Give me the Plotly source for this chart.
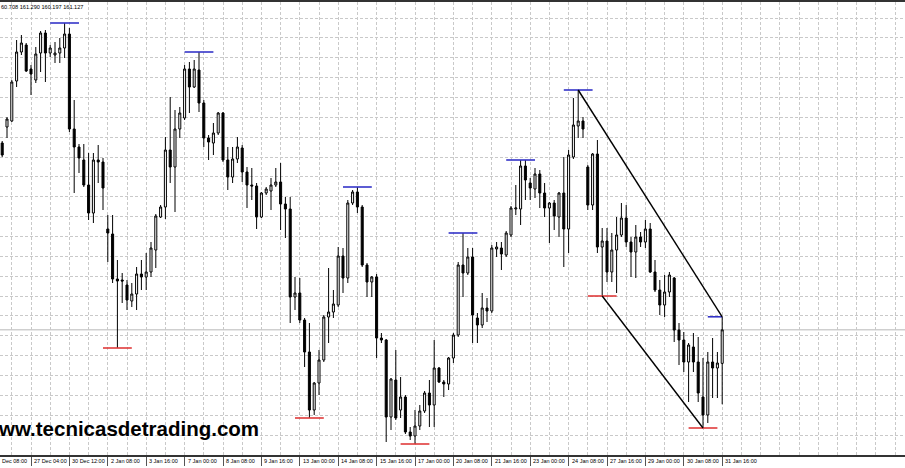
import plotly.graph_objects as go

# ---- data (EURJPY H4) ----
bar_index = list(range(2, 153))

open_ = [163.4625, 163.6625, 163.7375, 164.2375, 164.6, 164.6875, 164.3875, 164.25, 164.5875, 164.8375,
         164.5875, 164.5625, 164.5875, 164.65, 164.825, 163.6375, 163.4125, 163.25, 162.9375, 162.5875,
         163.25, 163.225, 162.3875, 162.325, 161.7625, 161.75, 161.6875, 161.4875, 161.575, 161.825,
         161.7875, 161.85, 162.125, 162.5375, 162.6625, 163.375, 163.1625, 163.6375, 163.775, 164.3875,
         164.1625, 164.375, 163.9625, 163.525, 163.4625, 163.5875, 163.8375, 163.25, 163.0375, 163.2625,
         163.4, 163.1, 162.9375, 162.925, 162.5375, 162.8375, 162.8625, 162.9375, 162.975, 162.7,
         162.6375, 161.5375, 161.5875, 161.25, 160.85, 160.125, 160.4625, 160.75, 161.2875, 161.35,
         161.4375, 162.05, 161.775, 162.7125, 162.85, 162.6625, 161.9375, 161.725, 161.7875, 161.025,
         161.0, 160.0375, 160.5, 160.125, 160.2875, 159.85, 159.8, 159.925, 160.1125, 160.3375,
         160.1875, 160.65, 160.475, 160.45, 160.775, 161.0625, 161.9375, 161.8375, 162.0375, 161.275,
         161.1875, 161.4, 161.3625, 162.1375, 162.15, 162.0625, 162.3125, 162.6375, 162.6375, 163.175,
         162.9625, 162.8875, 163.075, 162.8375, 162.65, 162.7125, 162.5375, 162.8375, 162.3875, 163.2875,
         163.675, 163.7375, 163.1625, 162.6875, 163.325, 162.1625, 162.2375, 161.85, 162.125, 162.3125,
         162.525, 162.225, 162.1, 162.2875, 162.225, 162.3875, 161.85, 161.625, 161.4375, 161.6,
         161.775, 161.125, 161.0, 160.725, 160.9125, 160.725, 160.2875, 160.0625, 160.725, 160.65,
         160.708]

high = [163.4875, 163.7875, 164.25, 164.75, 164.8125, 164.7125, 164.4375, 164.6625, 164.8625, 164.875,
        164.6875, 164.725, 164.775, 164.9625, 164.9, 164.0, 163.45, 163.45, 163.3375, 163.3375,
        163.4375, 163.275, 162.5625, 162.5625, 162.0, 161.8375, 161.75, 161.7125, 161.9125, 162.0,
        162.0875, 162.225, 162.575, 162.6875, 163.5375, 164.0375, 163.875, 163.9125, 164.4375, 164.475,
        164.5, 164.6, 164.0, 163.5625, 163.7125, 163.85, 163.85, 163.4125, 163.4125, 163.5375,
        163.4375, 163.1625, 163.15, 162.9625, 162.85, 162.9125, 163.025, 163.15, 163.2125, 162.7875,
        162.7875, 161.7875, 161.775, 161.275, 161.2125, 160.475, 160.875, 161.3125, 161.9, 161.625,
        162.1625, 162.15, 162.75, 162.875, 162.9125, 162.6875, 161.9625, 161.8, 161.825, 161.0875,
        161.0125, 160.525, 160.875, 160.5375, 160.3125, 159.9125, 160.125, 160.1875, 160.3625, 160.5,
        161.0, 160.6625, 160.5, 160.7875, 161.0875, 161.975, 162.3375, 162.15, 162.15, 161.3375,
        161.5875, 161.525, 162.1875, 162.225, 162.225, 162.3625, 162.675, 162.9375, 163.25, 163.25,
        163.025, 163.15, 163.125, 162.9625, 162.725, 162.75, 162.85, 163.2875, 163.375, 164.025,
        164.125, 163.7875, 163.1875, 163.3375, 163.5, 162.4, 162.4, 162.3375, 162.5375, 162.7125,
        162.6875, 162.2875, 162.4375, 162.35, 162.5, 162.4625, 162.0, 161.75, 161.8125, 161.85,
        161.7875, 161.2125, 161.1, 160.9625, 161.0875, 161.0375, 160.775, 160.85, 161.025, 160.85,
        161.290]

low = [163.2875, 163.525, 163.725, 164.1625, 164.5625, 164.35, 164.0625, 164.2125, 164.35, 164.225,
       164.5375, 164.4625, 164.4625, 164.525, 163.6, 162.8375, 163.0875, 162.9125, 162.5, 162.4625,
       162.9625, 162.625, 161.975, 161.7125, 160.9, 161.4625, 161.375, 161.4125, 161.375, 161.625,
       161.625, 161.7875, 161.9, 162.525, 162.5125, 162.9625, 162.6, 163.525, 163.75, 163.8375,
       164.15, 163.85, 163.4125, 163.25, 163.3125, 163.5625, 163.225, 162.875, 162.9625, 163.2125,
       162.975, 162.65, 162.75, 162.3875, 162.525, 162.8125, 162.625, 162.9125, 162.375, 162.275,
       161.2125, 161.375, 161.2125, 160.6625, 160.025, 160.0625, 160.3125, 160.725, 160.9625, 161.275,
       161.4125, 161.5875, 161.7125, 162.6875, 162.5875, 161.9125, 161.5375, 161.5375, 160.775, 160.9625,
       159.725, 159.875, 160.0, 160.025, 159.825, 159.75, 159.7, 159.875, 160.0875, 159.9125,
       159.9125, 160.4625, 160.2875, 160.375, 160.7125, 161.0375, 161.5375, 161.8125, 160.9625, 160.9625,
       161.15, 161.225, 161.3375, 162.0375, 161.875, 162.0375, 162.2875, 162.5625, 162.4375, 162.75,
       162.75, 162.775, 162.65, 162.5375, 162.2125, 162.375, 162.2875, 161.9125, 162.0875, 163.2625,
       163.525, 163.525, 162.625, 162.625, 162.0875, 161.55, 161.725, 161.725, 161.5875, 162.2875,
       162.1625, 161.7875, 161.775, 162.1625, 162.15, 161.8375, 161.6, 161.3125, 161.2875, 161.5375,
       160.975, 160.6875, 160.6, 160.225, 160.6, 160.225, 159.9, 159.9625, 160.275, 160.275,
       160.197]

close = [163.3125, 163.7625, 164.225, 164.6, 164.7125, 164.3625, 164.325, 164.575, 164.8375, 164.5875,
         164.65, 164.5875, 164.65, 164.825, 163.6375, 163.4125, 163.275, 162.9375, 162.5875, 163.25,
         163.225, 162.9, 162.3375, 161.7625, 161.7375, 161.7375, 161.5, 161.575, 161.825, 161.7875,
         161.85, 162.15, 162.55, 162.6625, 163.375, 163.1625, 163.6375, 163.8375, 164.3875, 164.1625,
         164.3875, 163.9625, 163.525, 163.475, 163.5875, 163.8375, 163.25, 163.0375, 163.2625, 163.4125,
         163.1, 162.9375, 162.925, 162.5375, 162.8375, 162.8875, 162.9375, 162.975, 162.7, 162.6375,
         161.5375, 161.5875, 161.25, 160.85, 160.125, 160.4625, 160.75, 161.2875, 161.35, 161.45,
         162.05, 161.775, 162.7125, 162.85, 162.6625, 161.9375, 161.725, 161.7875, 161.025, 161.0,
         160.0375, 160.5125, 160.025, 160.2875, 159.85, 159.8, 159.925, 160.1125, 160.3375, 160.1875,
         160.65, 160.475, 160.45, 160.775, 161.0625, 161.9375, 161.8375, 162.0375, 161.3125, 161.1875,
         161.4, 161.3625, 162.15, 162.1625, 162.075, 162.3375, 162.65, 162.65, 163.175, 163.0,
         162.9, 163.075, 162.8375, 162.65, 162.7125, 162.55, 162.8375, 162.3875, 163.3125, 163.6875,
         163.7375, 163.6375, 162.6875, 163.325, 162.1625, 162.2375, 161.85, 162.125, 162.3125, 162.525,
         162.225, 162.1, 162.2875, 162.225, 162.3875, 161.85, 161.625, 161.4375, 161.6, 161.8125,
         161.125, 161.0, 160.725, 160.9375, 160.725, 160.3375, 160.0625, 160.725, 160.65, 160.7125,
         161.127]

# time-axis labels (every 8 H4 bars)
label_bars = [8, 16, 24, 32, 40, 48, 56, 64, 72, 80, 88, 96, 104, 112, 120, 128, 136, 144, 152]
label_text = ["27 Dec 04:00", "30 Dec 12:00", "2 Jan 08:00", "3 Jan 16:00", "7 Jan 00:00",
              "8 Jan 08:00", "9 Jan 16:00", "13 Jan 00:00", "14 Jan 08:00", "15 Jan 16:00",
              "17 Jan 00:00", "20 Jan 08:00", "21 Jan 16:00", "23 Jan 00:00", "24 Jan 08:00",
              "27 Jan 16:00", "29 Jan 00:00", "30 Jan 08:00", "31 Jan 16:00"]
first_label = "Dec 08:00"
header_text = "60.708 161.290 160.197 161.127"
watermark = "www.tecnicasdetrading.com"

# swing points marked on the chart
swing_high_bars = [15, 43, 76, 98, 110, 122, 152]
swing_low_bars = [26, 66, 88, 127, 148]
channel_upper = (122, 152)
channel_lower = (127, 148)

# ---- figure ----
def val(arr, b):
    return arr[bar_index.index(b)]

fig = go.Figure()
fig.add_trace(go.Candlestick(
    x=bar_index, open=open_, high=high, low=low, close=close,
    increasing=dict(line=dict(color="black", width=1), fillcolor="white"),
    decreasing=dict(line=dict(color="black", width=1), fillcolor="black"),
    hoverinfo="skip", showlegend=False,
))

last_bar = bar_index[-1]
shapes = []
# last price line
shapes.append(dict(type="line", xref="paper", yref="y", x0=0, x1=1,
                   y0=close[-1], y1=close[-1], line=dict(color="#cfcfcf", width=1.5), layer="below"))
for b in swing_high_bars:
    lv = val(high, b)
    shapes.append(dict(type="line", xref="x", yref="y", x0=b - 3, x1=min(b + 3, last_bar),
                       y0=lv, y1=lv, line=dict(color="#3434c8", width=1.6)))
for b in swing_low_bars:
    lv = val(low, b)
    shapes.append(dict(type="line", xref="x", yref="y", x0=b - 3, x1=min(b + 3, last_bar),
                       y0=lv, y1=lv, line=dict(color="#e03a3a", width=1.6)))
shapes.append(dict(type="line", xref="x", yref="y", x0=channel_upper[0], x1=channel_upper[1],
                   y0=val(high, channel_upper[0]), y1=val(high, channel_upper[1]),
                   line=dict(color="black", width=1.4)))
shapes.append(dict(type="line", xref="x", yref="y", x0=channel_lower[0], x1=channel_lower[1],
                   y0=val(low, channel_lower[0]), y1=val(low, channel_lower[1]),
                   line=dict(color="black", width=1.4)))

annotations = []
for b, t in zip(label_bars, label_text):
    annotations.append(dict(x=b, y=0, xref="x", yref="paper", text=t, showarrow=False,
                            xanchor="left", yanchor="middle", xshift=1, yshift=-6,
                            font=dict(family="Liberation Sans", size=5.5, color="black")))
annotations.append(dict(x=0, y=0, xref="paper", yref="paper", text=first_label, showarrow=False,
                        xanchor="left", yanchor="middle", xshift=0, yshift=-6,
                        font=dict(family="Liberation Sans", size=5.5, color="black")))
annotations.append(dict(x=0, y=1, xref="paper", yref="paper", text=header_text, showarrow=False,
                        xanchor="left", yanchor="top", xshift=-1, yshift=0,
                        font=dict(family="Liberation Sans", size=5.6, color="black")))
annotations.append(dict(x=0, y=0, xref="paper", yref="paper", text="<b>" + watermark + "</b>",
                        showarrow=False, xanchor="left", yanchor="middle", xshift=-20, yshift=27,
                        font=dict(family="Liberation Sans", size=20.5, color="black")))

# grid positions (layout only)
x_minor = [v for v in range(4, 189, 4) if v not in label_bars]
y_grid = [165.25 - (18 + 19.857 * k) / 80 for k in range(22)]

grid_style = dict(gridcolor="#c9c9c9", griddash="3px,2px", gridwidth=1)

fig.update_layout(
    width=905, height=468,
    margin=dict(l=0, r=0, t=2, b=13),
    paper_bgcolor="white", plot_bgcolor="white",
    boxgap=0.4,
    shapes=shapes, annotations=annotations,
    showlegend=False,
    xaxis=dict(range=[1.5417, 190.083], rangeslider=dict(visible=False),
               tickmode="array", tickvals=label_bars, showticklabels=False,
               ticks="outside", ticklen=9, tickcolor="#555555", tickwidth=1,
               showgrid=True, **grid_style,
               minor=dict(tickmode="array", tickvals=x_minor, showgrid=True, ticks="", **grid_style),
               showline=True, linecolor="#333333", linewidth=1.5, mirror=True, zeroline=False),
    yaxis=dict(range=[159.5625, 165.225], tickmode="array", tickvals=y_grid,
               showticklabels=False, ticks="", showgrid=True, **grid_style,
               showline=False, zeroline=False, fixedrange=True),
)

fig.write_html("out.html", config={"displayModeBar": False},
               post_script="document.body.style.margin='0px';document.body.style.overflow='hidden';")
